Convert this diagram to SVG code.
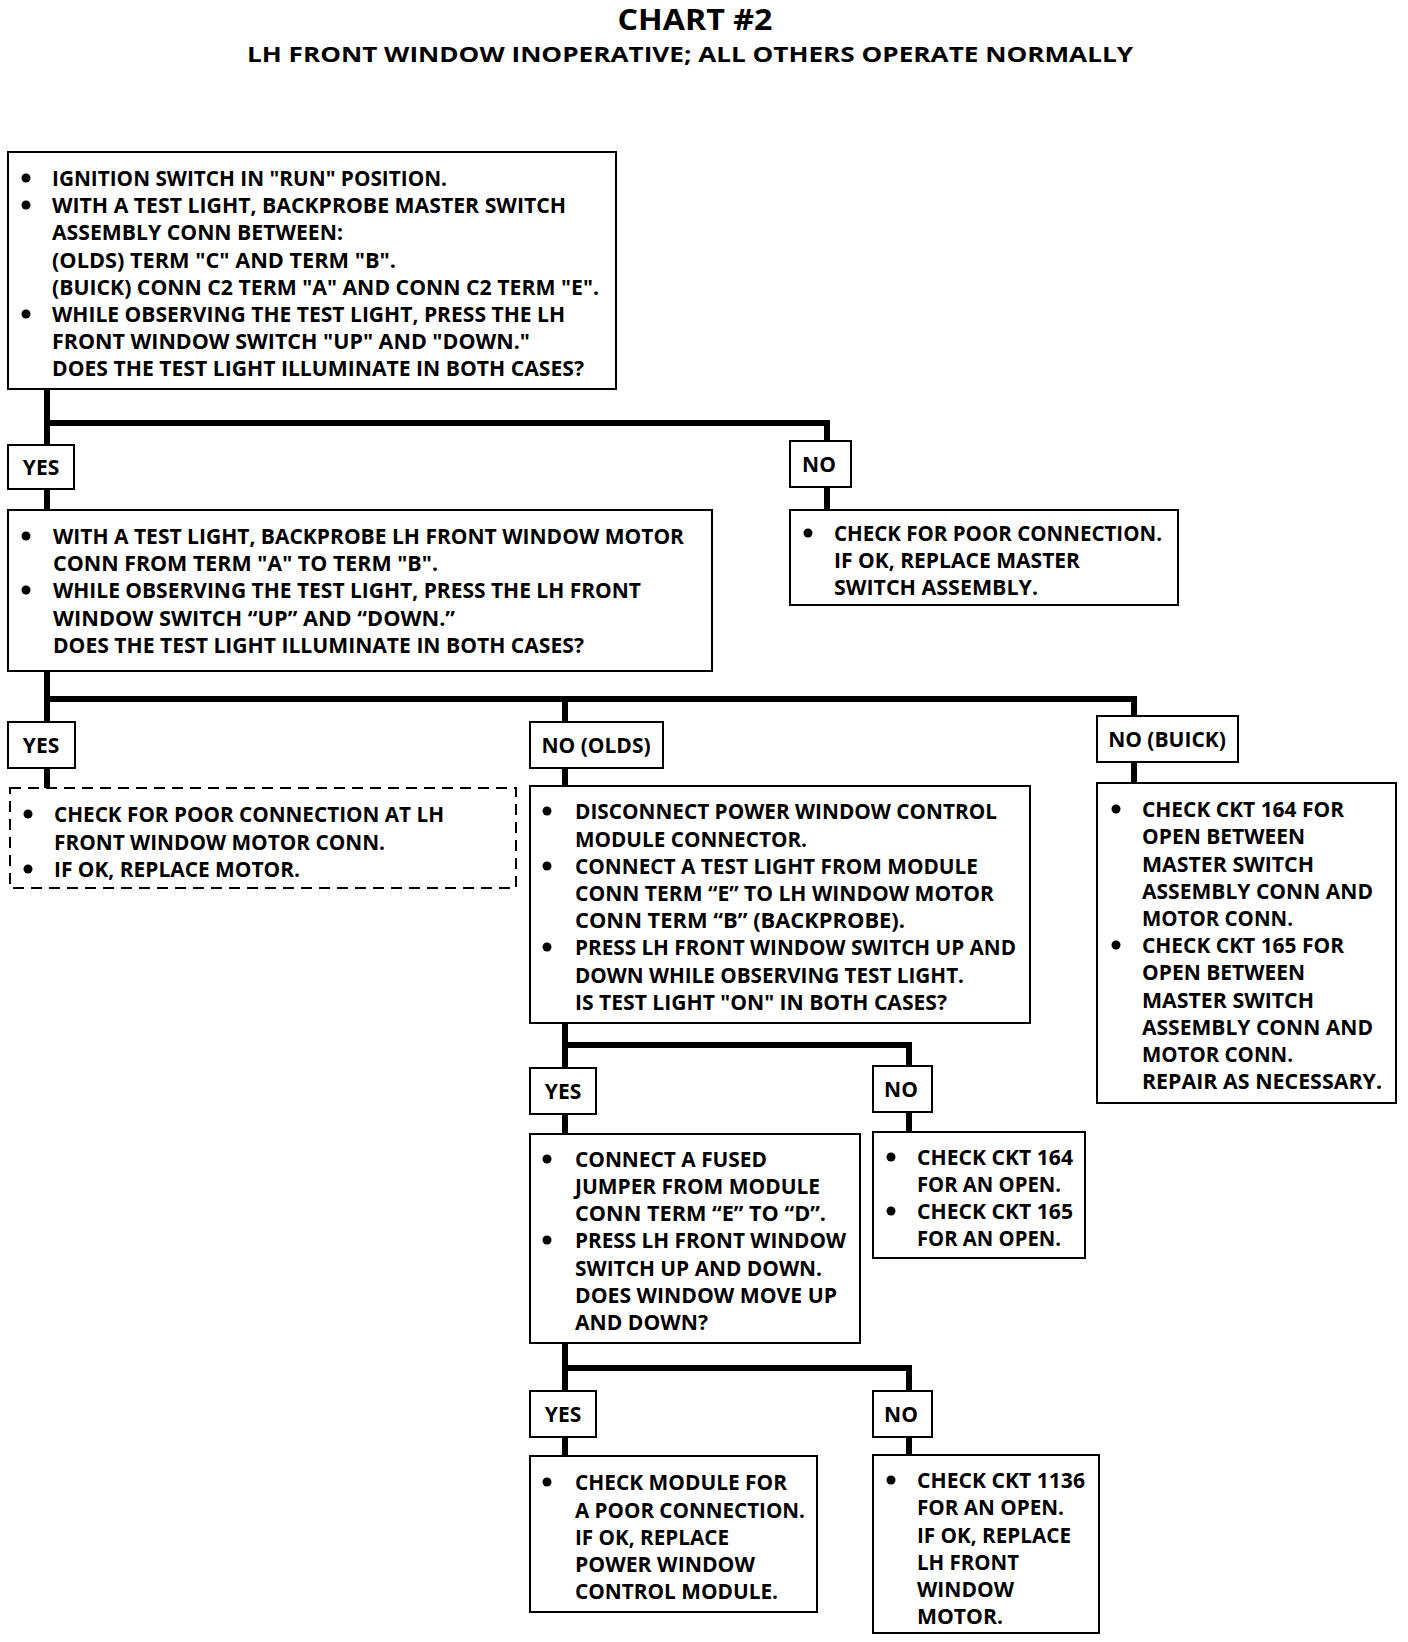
<svg xmlns="http://www.w3.org/2000/svg" width="1408" height="1642" viewBox="0 0 1408 1642">
<style>
.bg{fill:#fff}
.box{fill:#fff;stroke:#000;stroke-width:2}
.dash{fill:#fff;stroke:#000;stroke-width:2;stroke-dasharray:11 7}
.conn{stroke:#000;stroke-width:6;fill:none;stroke-linecap:square}
.t{font-family:"Open Sans","Liberation Sans",sans-serif;font-weight:700;font-size:21px;fill:#000}
.lab{font-family:"Open Sans","Liberation Sans",sans-serif;font-weight:700;font-size:21px;fill:#000;text-anchor:middle}
.h1{font-family:"Open Sans","Liberation Sans",sans-serif;font-weight:700;font-size:28px;fill:#000;text-anchor:middle}
.h2{font-family:"Open Sans","Liberation Sans",sans-serif;font-weight:700;font-size:22px;fill:#000;text-anchor:middle}
.b{fill:#000}
</style>
<rect class="bg" x="0" y="0" width="1408" height="1642"/>
<g id="title">
<text class="h1" x="695" y="30" textLength="155" lengthAdjust="spacingAndGlyphs">CHART #2</text>
<text class="h2" x="690" y="62" textLength="886" lengthAdjust="spacingAndGlyphs">LH FRONT WINDOW INOPERATIVE; ALL OTHERS OPERATE NORMALLY</text>
</g>
<g id="connectors">
<path class="conn" d="M47 389 V510 M47 423 H827 V510"/>
<path class="conn" d="M47 671 V788 M47 699 H1134 V783 M565 699 V786"/>
<path class="conn" d="M565 1023 V1134 M565 1045 H909 V1132"/>
<path class="conn" d="M565 1343 V1456 M565 1368 H909 V1455"/>
</g>
<g id="n1">
<rect class="box" x="8" y="152" width="608" height="237"/>
<circle class="b" cx="26" cy="178" r="4.5"/><circle class="b" cx="26" cy="205" r="4.5"/><circle class="b" cx="26" cy="314" r="4.5"/>
<text class="t" x="52" y="186" textLength="395" lengthAdjust="spacingAndGlyphs">IGNITION SWITCH IN "RUN" POSITION.</text>
<text class="t" x="52" y="213" textLength="514" lengthAdjust="spacingAndGlyphs">WITH A TEST LIGHT, BACKPROBE MASTER SWITCH</text>
<text class="t" x="52" y="240" textLength="291" lengthAdjust="spacingAndGlyphs">ASSEMBLY CONN BETWEEN:</text>
<text class="t" x="52" y="268" textLength="344" lengthAdjust="spacingAndGlyphs">(OLDS) TERM "C" AND TERM "B".</text>
<text class="t" x="52" y="295" textLength="547" lengthAdjust="spacingAndGlyphs">(BUICK) CONN C2 TERM "A" AND CONN C2 TERM "E".</text>
<text class="t" x="52" y="322" textLength="513" lengthAdjust="spacingAndGlyphs">WHILE OBSERVING THE TEST LIGHT, PRESS THE LH</text>
<text class="t" x="52" y="349" textLength="478" lengthAdjust="spacingAndGlyphs">FRONT WINDOW SWITCH "UP" AND "DOWN."</text>
<text class="t" x="52" y="376" textLength="532" lengthAdjust="spacingAndGlyphs">DOES THE TEST LIGHT ILLUMINATE IN BOTH CASES?</text>
</g>
<g id="yes1">
<rect class="box" x="8" y="445" width="66" height="44"/>
<text class="lab" x="41" y="475">YES</text>
</g>
<g id="no1">
<rect class="box" x="790" y="441" width="61" height="46"/>
<text class="lab" x="819" y="472">NO</text>
</g>
<g id="n_no1">
<rect class="box" x="790" y="510" width="388" height="95"/>
<circle class="b" cx="808" cy="533" r="4.5"/>
<text class="t" x="834" y="541" textLength="328" lengthAdjust="spacingAndGlyphs">CHECK FOR POOR CONNECTION.</text>
<text class="t" x="834" y="568" textLength="246" lengthAdjust="spacingAndGlyphs">IF OK, REPLACE MASTER</text>
<text class="t" x="834" y="595" textLength="204" lengthAdjust="spacingAndGlyphs">SWITCH ASSEMBLY.</text>
</g>
<g id="n2">
<rect class="box" x="8" y="510" width="704" height="161"/>
<circle class="b" cx="26" cy="536" r="4.5"/><circle class="b" cx="26" cy="590" r="4.5"/>
<text class="t" x="53" y="544" textLength="631" lengthAdjust="spacingAndGlyphs">WITH A TEST LIGHT, BACKPROBE LH FRONT WINDOW MOTOR</text>
<text class="t" x="53" y="571" textLength="385" lengthAdjust="spacingAndGlyphs">CONN FROM TERM "A" TO TERM "B".</text>
<text class="t" x="53" y="598" textLength="588" lengthAdjust="spacingAndGlyphs">WHILE OBSERVING THE TEST LIGHT, PRESS THE LH FRONT</text>
<text class="t" x="53" y="626" textLength="402" lengthAdjust="spacingAndGlyphs">WINDOW SWITCH “UP” AND “DOWN.”</text>
<text class="t" x="53" y="653" textLength="531" lengthAdjust="spacingAndGlyphs">DOES THE TEST LIGHT ILLUMINATE IN BOTH CASES?</text>
</g>
<g id="yes2">
<rect class="box" x="8" y="722" width="67" height="46"/>
<text class="lab" x="41" y="753">YES</text>
</g>
<g id="n_yes2">
<rect class="dash" x="10" y="788" width="506" height="100"/>
<circle class="b" cx="28" cy="814" r="4.5"/><circle class="b" cx="28" cy="869" r="4.5"/>
<text class="t" x="54" y="822" textLength="390" lengthAdjust="spacingAndGlyphs">CHECK FOR POOR CONNECTION AT LH</text>
<text class="t" x="54" y="850" textLength="331" lengthAdjust="spacingAndGlyphs">FRONT WINDOW MOTOR CONN.</text>
<text class="t" x="54" y="877" textLength="246" lengthAdjust="spacingAndGlyphs">IF OK, REPLACE MOTOR.</text>
</g>
<g id="no_olds">
<rect class="box" x="530" y="722" width="133" height="46"/>
<text class="lab" x="596" y="753">NO (OLDS)</text>
</g>
<g id="n_olds">
<rect class="box" x="530" y="786" width="500" height="237"/>
<circle class="b" cx="547" cy="811" r="4.5"/><circle class="b" cx="547" cy="866" r="4.5"/><circle class="b" cx="547" cy="947" r="4.5"/>
<text class="t" x="575" y="819" textLength="422" lengthAdjust="spacingAndGlyphs">DISCONNECT POWER WINDOW CONTROL</text>
<text class="t" x="575" y="847" textLength="232" lengthAdjust="spacingAndGlyphs">MODULE CONNECTOR.</text>
<text class="t" x="575" y="874" textLength="403" lengthAdjust="spacingAndGlyphs">CONNECT A TEST LIGHT FROM MODULE</text>
<text class="t" x="575" y="901" textLength="419" lengthAdjust="spacingAndGlyphs">CONN TERM “E” TO LH WINDOW MOTOR</text>
<text class="t" x="575" y="928" textLength="330" lengthAdjust="spacingAndGlyphs">CONN TERM “B” (BACKPROBE).</text>
<text class="t" x="575" y="955" textLength="441" lengthAdjust="spacingAndGlyphs">PRESS LH FRONT WINDOW SWITCH UP AND</text>
<text class="t" x="575" y="983" textLength="389" lengthAdjust="spacingAndGlyphs">DOWN WHILE OBSERVING TEST LIGHT.</text>
<text class="t" x="575" y="1010" textLength="372" lengthAdjust="spacingAndGlyphs">IS TEST LIGHT "ON" IN BOTH CASES?</text>
</g>
<g id="no_buick">
<rect class="box" x="1097" y="716" width="141" height="46"/>
<text class="lab" x="1167" y="747">NO (BUICK)</text>
</g>
<g id="n_buick">
<rect class="box" x="1097" y="783" width="299" height="320"/>
<circle class="b" cx="1116" cy="809" r="4.5"/><circle class="b" cx="1116" cy="945" r="4.5"/>
<text class="t" x="1142" y="817" textLength="202" lengthAdjust="spacingAndGlyphs">CHECK CKT 164 FOR</text>
<text class="t" x="1142" y="844" textLength="163" lengthAdjust="spacingAndGlyphs">OPEN BETWEEN</text>
<text class="t" x="1142" y="872" textLength="172" lengthAdjust="spacingAndGlyphs">MASTER SWITCH</text>
<text class="t" x="1142" y="899" textLength="231" lengthAdjust="spacingAndGlyphs">ASSEMBLY CONN AND</text>
<text class="t" x="1142" y="926" textLength="151" lengthAdjust="spacingAndGlyphs">MOTOR CONN.</text>
<text class="t" x="1142" y="953" textLength="202" lengthAdjust="spacingAndGlyphs">CHECK CKT 165 FOR</text>
<text class="t" x="1142" y="980" textLength="163" lengthAdjust="spacingAndGlyphs">OPEN BETWEEN</text>
<text class="t" x="1142" y="1008" textLength="172" lengthAdjust="spacingAndGlyphs">MASTER SWITCH</text>
<text class="t" x="1142" y="1035" textLength="231" lengthAdjust="spacingAndGlyphs">ASSEMBLY CONN AND</text>
<text class="t" x="1142" y="1062" textLength="151" lengthAdjust="spacingAndGlyphs">MOTOR CONN.</text>
<text class="t" x="1142" y="1089" textLength="240" lengthAdjust="spacingAndGlyphs">REPAIR AS NECESSARY.</text>
</g>
<g id="yes3">
<rect class="box" x="530" y="1068" width="66" height="46"/>
<text class="lab" x="563" y="1099">YES</text>
</g>
<g id="no3">
<rect class="box" x="873" y="1066" width="59" height="46"/>
<text class="lab" x="901" y="1097">NO</text>
</g>
<g id="n_fused">
<rect class="box" x="530" y="1134" width="330" height="209"/>
<circle class="b" cx="547" cy="1159" r="4.5"/><circle class="b" cx="547" cy="1240" r="4.5"/>
<text class="t" x="575" y="1167" textLength="192" lengthAdjust="spacingAndGlyphs">CONNECT A FUSED</text>
<text class="t" x="575" y="1194" textLength="245" lengthAdjust="spacingAndGlyphs">JUMPER FROM MODULE</text>
<text class="t" x="575" y="1221" textLength="251" lengthAdjust="spacingAndGlyphs">CONN TERM “E” TO “D”.</text>
<text class="t" x="575" y="1248" textLength="271" lengthAdjust="spacingAndGlyphs">PRESS LH FRONT WINDOW</text>
<text class="t" x="575" y="1276" textLength="247" lengthAdjust="spacingAndGlyphs">SWITCH UP AND DOWN.</text>
<text class="t" x="575" y="1303" textLength="262" lengthAdjust="spacingAndGlyphs">DOES WINDOW MOVE UP</text>
<text class="t" x="575" y="1330" textLength="133" lengthAdjust="spacingAndGlyphs">AND DOWN?</text>
</g>
<g id="n_ckt164">
<rect class="box" x="873" y="1132" width="212" height="126"/>
<circle class="b" cx="891" cy="1157" r="4.5"/><circle class="b" cx="891" cy="1211" r="4.5"/>
<text class="t" x="917" y="1165" textLength="156" lengthAdjust="spacingAndGlyphs">CHECK CKT 164</text>
<text class="t" x="917" y="1192" textLength="144" lengthAdjust="spacingAndGlyphs">FOR AN OPEN.</text>
<text class="t" x="917" y="1219" textLength="156" lengthAdjust="spacingAndGlyphs">CHECK CKT 165</text>
<text class="t" x="917" y="1246" textLength="144" lengthAdjust="spacingAndGlyphs">FOR AN OPEN.</text>
</g>
<g id="yes4">
<rect class="box" x="530" y="1391" width="66" height="46"/>
<text class="lab" x="563" y="1422">YES</text>
</g>
<g id="no4">
<rect class="box" x="873" y="1391" width="59" height="46"/>
<text class="lab" x="901" y="1422">NO</text>
</g>
<g id="n_module">
<rect class="box" x="530" y="1456" width="287" height="156"/>
<circle class="b" cx="547" cy="1482" r="4.5"/>
<text class="t" x="575" y="1490" textLength="212" lengthAdjust="spacingAndGlyphs">CHECK MODULE FOR</text>
<text class="t" x="575" y="1518" textLength="230" lengthAdjust="spacingAndGlyphs">A POOR CONNECTION.</text>
<text class="t" x="575" y="1545" textLength="154" lengthAdjust="spacingAndGlyphs">IF OK, REPLACE</text>
<text class="t" x="575" y="1572" textLength="180" lengthAdjust="spacingAndGlyphs">POWER WINDOW</text>
<text class="t" x="575" y="1599" textLength="203" lengthAdjust="spacingAndGlyphs">CONTROL MODULE.</text>
</g>
<g id="n_ckt1136">
<rect class="box" x="873" y="1455" width="226" height="178"/>
<circle class="b" cx="891" cy="1480" r="4.5"/>
<text class="t" x="917" y="1488" textLength="168" lengthAdjust="spacingAndGlyphs">CHECK CKT 1136</text>
<text class="t" x="917" y="1515" textLength="147" lengthAdjust="spacingAndGlyphs">FOR AN OPEN.</text>
<text class="t" x="917" y="1543" textLength="154" lengthAdjust="spacingAndGlyphs">IF OK, REPLACE</text>
<text class="t" x="917" y="1570" textLength="102" lengthAdjust="spacingAndGlyphs">LH FRONT</text>
<text class="t" x="917" y="1597" textLength="97" lengthAdjust="spacingAndGlyphs">WINDOW</text>
<text class="t" x="917" y="1624" textLength="86" lengthAdjust="spacingAndGlyphs">MOTOR.</text>
</g>
</svg>
